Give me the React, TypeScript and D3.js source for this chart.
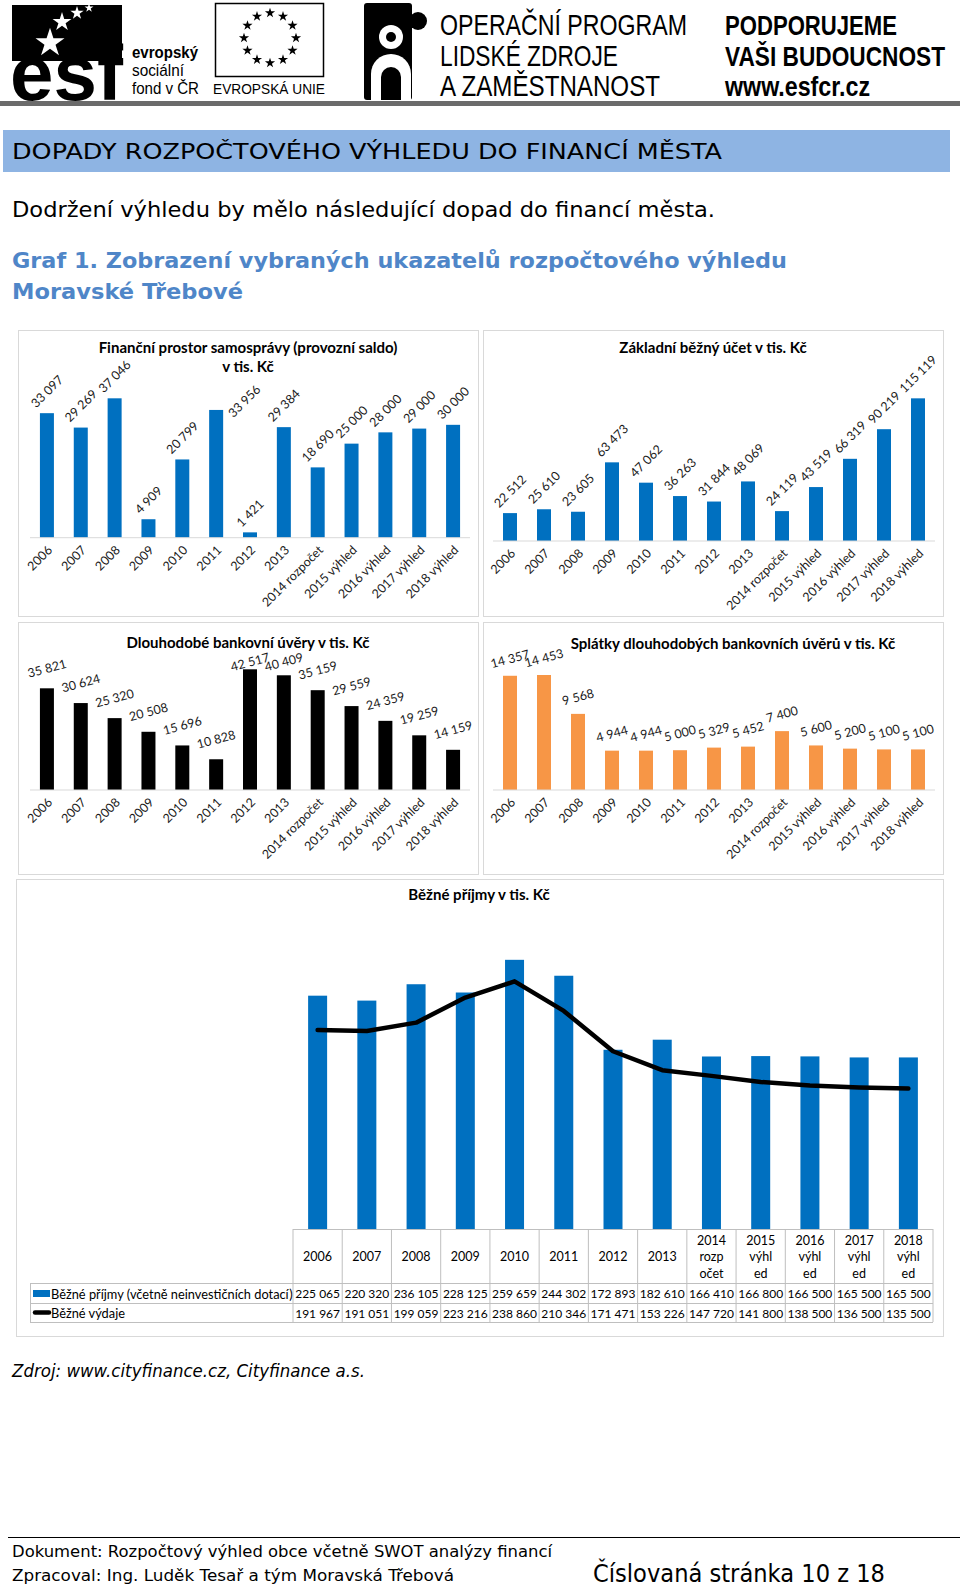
import React from "react";
import * as d3 from "d3";

// ---------- DATA ----------
const categories = [
  "2006", "2007", "2008", "2009", "2010", "2011", "2012", "2013",
  "2014 rozpočet", "2015 výhled", "2016 výhled", "2017 výhled", "2018 výhled",
];
const provozniSaldo = [33097, 29269, 37046, 4909, 20799, 33956, 1421, 29384, 18690, 25000, 28000, 29000, 30000];
const zakladniBeznyUcet = [22512, 25610, 23605, 63473, 47062, 36263, 31844, 48069, 24119, 43519, 66319, 90219, 115119];
const dlouhodobeUvery = [35821, 30624, 25320, 20508, 15696, 10828, 42517, 40409, 35159, 29559, 24359, 19259, 14159];
const splatkyUveru = [14357, 14453, 9568, 4944, 4944, 5000, 5329, 5452, 7400, 5600, 5200, 5100, 5100];
const beznePrijmy = [225065, 220320, 236105, 228125, 259659, 244302, 172893, 182610, 166410, 166800, 166500, 165500, 165500];
const bezneVydaje = [191967, 191051, 199059, 223216, 238860, 210346, 171471, 153226, 147720, 141800, 138500, 136500, 135500];
const tableHeaderLines = [
  ["2006"], ["2007"], ["2008"], ["2009"], ["2010"], ["2011"], ["2012"], ["2013"],
  ["2014", "rozp", "očet"], ["2015", "výhl", "ed"], ["2016", "výhl", "ed"], ["2017", "výhl", "ed"], ["2018", "výhl", "ed"],
];
const seriesNames = ["Běžné příjmy (včetně neinvestičních dotací)", "Běžné výdaje"];

const chartTitles = {
  saldo: ["Finanční prostor samosprávy (provozní saldo)", "v tis. Kč"],
  ucet: ["Základní běžný účet v tis. Kč"],
  uvery: ["Dlouhodobé bankovní úvěry v tis. Kč"],
  splatky: ["Splátky dlouhodobých bankovních úvěrů v tis. Kč"],
  prijmy: ["Běžné příjmy v tis. Kč"],
};

// ---------- HELPERS ----------
const locale = d3.formatLocale({ decimal: ",", thousands: "\u00a0", grouping: [3], currency: ["", ""] });
const fmt = locale.format(",d");
const CHART_FONT = "Lato, 'Open Sans', sans-serif";
const NARROW = "'Liberation Sans Narrow', 'Liberation Sans', Arial, sans-serif";

let _ctx: CanvasRenderingContext2D | null = null;
function textWidth(s: string, font: string): number {
  if (!_ctx) _ctx = document.createElement("canvas").getContext("2d");
  if (!_ctx) return s.length * 6.5;
  _ctx.font = font;
  return _ctx.measureText(s).width;
}

type Box = { x: number; y: number; w: number; h: number };

function BarChart(props: {
  box: Box;
  title: string[];
  titleX: number;
  titleY: number;
  plotX: [number, number];
  baseY: number;
  topY: number;
  max: number;
  values: number[];
  color: string;
  labelMode: "rot45" | "tilt";
  labelOffset?: number;
  labelMinY?: number;
  movedLabel?: { index: number; dx: number; dy: number };
}) {
  const { box, title, titleX, titleY, plotX, baseY, topY, max, values, color, labelMode, movedLabel } = props;
  const x = d3.scaleBand<string>().domain(categories).range(plotX).paddingInner(0);
  const y = d3.scaleLinear().domain([0, max]).range([baseY, topY]);
  const bw = 14;
  return (
    <g fontFamily={CHART_FONT}>
      <rect x={box.x + 0.5} y={box.y + 0.5} width={box.w} height={box.h} fill="#fff" stroke="#D9D9D9" />
      {title.map((t, i) => (
        <text key={i} x={titleX} y={titleY + i * 19} textAnchor="middle" dominantBaseline="central"
          fontWeight="bold" fontSize={15} fill="#000">{t}</text>
      ))}
      {values.map((v, i) => {
        const cx = (x(categories[i]) as number) + x.bandwidth() / 2;
        return <rect key={i} x={cx - bw / 2} y={y(v)} width={bw} height={baseY - y(v)} fill={color} />;
      })}
      <line x1={plotX[0]} x2={plotX[1]} y1={baseY} y2={baseY} stroke="#D9D9D9" strokeWidth={1} />
      {values.map((v, i) => {
        let cx = (x(categories[i]) as number) + x.bandwidth() / 2;
        const label = fmt(v);
        const shift = movedLabel && movedLabel.index === i ? movedLabel : { dx: 0, dy: 0 };
        if (labelMode === "rot45") {
          const w = textWidth(label, "12.5px Lato");
          const cy = y(v) - 4 - (w + 11) * 0.3536;
          return (
            <text key={i} transform={`translate(${cx + shift.dx},${cy + shift.dy}) rotate(-45)`} textAnchor="middle"
              dominantBaseline="central" fontSize={12.5} fill="#1a1a1a">{label}</text>
          );
        }
        const cy = Math.max(y(v) - (props.labelOffset ?? 18), props.labelMinY ?? 0);
        return (
          <text key={i} transform={`translate(${cx + shift.dx},${cy + shift.dy}) rotate(-15)`} textAnchor="middle"
            dominantBaseline="central" fontSize={12.5} fill="#1a1a1a">{label}</text>
        );
      })}
      {categories.map((c) => {
        const cx = (x(c) as number) + x.bandwidth() / 2;
        return (
          <text key={c} transform={`translate(${cx + 3},${baseY + 10}) rotate(-45)`} textAnchor="end"
            dominantBaseline="central" fontSize={12.5} fill="#1a1a1a">{c}</text>
        );
      })}
    </g>
  );
}

function ComboChart() {
  const box: Box = { x: 16, y: 879, w: 927, h: 457 };
  const tX0 = 293, tX1 = 933;
  const baseY = 1229;
  const x = d3.scaleBand<string>().domain(categories).range([tX0, tX1]).paddingInner(0);
  const y = d3.scaleLinear().domain([0, 300000]).range([baseY, baseY - 311]);
  const bw = 19;
  const cxOf = (i: number) => (x(categories[i]) as number) + x.bandwidth() / 2;
  const line = d3.line<number>().x((_, i) => cxOf(i)).y((d) => y(d));
  const rowTop = [1283, 1303, 1322];
  const legX0 = 30;
  return (
    <g fontFamily={CHART_FONT}>
      <rect x={box.x + 0.5} y={box.y + 0.5} width={box.w} height={box.h} fill="#fff" stroke="#D9D9D9" />
      <text x={479} y={894} textAnchor="middle" dominantBaseline="central" fontWeight="bold" fontSize={15} fill="#000">
        {chartTitles.prijmy[0]}
      </text>
      {beznePrijmy.map((v, i) => (
        <rect key={i} x={cxOf(i) - bw / 2} y={y(v)} width={bw} height={baseY - y(v)} fill="#0070C0" />
      ))}
      <path d={line(bezneVydaje) || ""} fill="none" stroke="#000" strokeWidth={4.5} strokeLinejoin="round" strokeLinecap="round" />
      <g stroke="#BFBFBF" strokeWidth={1}>
        <line x1={tX0} x2={tX1} y1={baseY + 0.5} y2={baseY + 0.5} />
        {rowTop.map((ry, i) => (
          <line key={i} x1={legX0} x2={tX1} y1={ry + 0.5} y2={ry + 0.5} />
        ))}
        <line x1={legX0 + 0.5} x2={legX0 + 0.5} y1={rowTop[0]} y2={rowTop[2]} />
        {d3.range(categories.length + 1).map((k) => {
          const xx = tX0 + k * x.bandwidth();
          return <line key={k} x1={xx} x2={xx} y1={baseY} y2={rowTop[2]} />;
        })}
      </g>
      {tableHeaderLines.map((lines, i) => {
        const cx = cxOf(i);
        const yy = lines.length === 1 ? [1256.5] : [1240, 1256.5, 1273];
        return lines.map((t, j) => (
          <text key={i + "-" + j} x={cx} y={yy[j]} textAnchor="middle" dominantBaseline="central" fontSize={12.5} fill="#000">{t}</text>
        ));
      })}
      {[beznePrijmy, bezneVydaje].map((row, r) => (
        <g key={r}>
          {row.map((v, i) => (
            <text key={i} x={cxOf(i)} y={(rowTop[r] + rowTop[r + 1]) / 2 + 0.5} textAnchor="middle" dominantBaseline="central"
              fontSize={12} fill="#000">{fmt(v)}</text>
          ))}
        </g>
      ))}
      <rect x={33} y={1290} width={17} height={7} fill="#0070C0" />
      <line x1={35} x2={49} y1={1312.5} y2={1312.5} stroke="#000" strokeWidth={4.5} strokeLinecap="round" />
      {seriesNames.map((s, r) => (
        <text key={r} x={51} y={(rowTop[r] + rowTop[r + 1]) / 2 + 0.5} dominantBaseline="central" fontSize={12.8} fill="#000">{s}</text>
      ))}
    </g>
  );
}

function Star({ cx, cy, size, fill }: { cx: number; cy: number; size: number; fill: string }) {
  const p = d3.symbol().type(d3.symbolStar).size(size)() || "";
  return <path d={p} transform={`translate(${cx},${cy})`} fill={fill} />;
}

function Squeezed(props: { x: number; y: number; width: number; sx: number; fontSize: number; bold?: boolean; children: string }) {
  const { x, y, width, sx, fontSize, bold, children } = props;
  return (
    <text transform={`translate(${x},${y}) scale(${sx},1)`} fontFamily={NARROW} fontSize={fontSize}
      fontWeight={bold ? "bold" : "normal"} fill="#000" textLength={width / sx} lengthAdjust="spacingAndGlyphs">
      {children}
    </text>
  );
}

function Header() {
  const euStars = d3.range(12).map((k) => {
    const a = (k / 12) * Math.PI * 2;
    return [270 + Math.sin(a) * 26, 38 - Math.cos(a) * 25];
  });
  return (
    <g>
      <rect x={12} y={5} width={110} height={56} fill="#000" />
      <Star cx={50} cy={43} size={260} fill="#fff" />
      <Star cx={62} cy={22} size={110} fill="#fff" />
      <Star cx={77} cy={13} size={55} fill="#fff" />
      <Star cx={89} cy={8} size={25} fill="#fff" />
      <Squeezed x={10} y={100} width={113} sx={0.9} fontSize={78} bold>esf</Squeezed>
      <Squeezed x={132} y={58} width={66} sx={0.85} fontSize={16} bold>evropský</Squeezed>
      <Squeezed x={132} y={76} width={52} sx={0.85} fontSize={16}>sociální</Squeezed>
      <Squeezed x={132} y={94} width={67} sx={0.85} fontSize={16}>fond v ČR</Squeezed>
      <rect x={215.5} y={3.5} width={108} height={73} fill="#fff" stroke="#000" strokeWidth={1.5} />
      {euStars.map(([sx, sy], k) => (
        <Star key={k} cx={sx} cy={sy} size={32} fill="#000" />
      ))}
      <Squeezed x={213} y={94} width={112} sx={0.85} fontSize={14}>EVROPSKÁ UNIE</Squeezed>
      <rect x={364} y={3} width={48} height={97} rx={3} fill="#000" />
      <circle cx={418} cy={21} r={9} fill="#000" />
      <circle cx={391} cy={37} r={12} fill="#fff" />
      <circle cx={391} cy={37} r={5} fill="#000" />
      <path d="M371,100 V74 A20,20 0 0 1 411,74 V100 Z" fill="#fff" />
      <path d="M381,100 V77 A10,10 0 0 1 401,77 V100 Z" fill="#000" />
      <Squeezed x={440} y={35} width={247} sx={0.8} fontSize={29}>OPERAČNÍ PROGRAM</Squeezed>
      <Squeezed x={440} y={66} width={178} sx={0.8} fontSize={29}>LIDSKÉ ZDROJE</Squeezed>
      <Squeezed x={440} y={96} width={220} sx={0.8} fontSize={29}>A ZAMĚSTNANOST</Squeezed>
      <Squeezed x={725} y={35} width={172} sx={0.78} fontSize={28} bold>PODPORUJEME</Squeezed>
      <Squeezed x={725} y={66} width={220} sx={0.78} fontSize={28} bold>VAŠI BUDOUCNOST</Squeezed>
      <Squeezed x={725} y={96} width={145} sx={0.78} fontSize={28} bold>www.esfcr.cz</Squeezed>
      <rect x={0} y={101} width={960} height={5} fill="#6b6b6b" />
    </g>
  );
}

export default function App() {
  return (
    <svg width={960} height={1589} viewBox="0 0 960 1589"
      style={{ position: "absolute", left: 0, top: 0, background: "#fff" }}>
      <rect x={0} y={0} width={960} height={1589} fill="#fff" />
      <Header />
      <rect x={3} y={130} width={947} height={42} fill="#8EB4E3" />
      <text x={12} y={159} fontFamily="'DejaVu Sans', Verdana, sans-serif" fontSize={21} fill="#000"
        textLength={710} lengthAdjust="spacingAndGlyphs">DOPADY ROZPOČTOVÉHO VÝHLEDU DO FINANCÍ MĚSTA</text>
      <text x={12} y={217} fontFamily="'DejaVu Sans', Verdana, sans-serif" fontSize={21} fill="#000"
        textLength={703} lengthAdjust="spacingAndGlyphs">Dodržení výhledu by mělo následující dopad do financí města.</text>
      <text x={12} y={268} fontFamily="'DejaVu Sans', Verdana, sans-serif" fontWeight="bold" fontSize={21} fill="#4F86C8"
        textLength={775} lengthAdjust="spacingAndGlyphs">Graf 1. Zobrazení vybraných ukazatelů rozpočtového výhledu</text>
      <text x={12} y={299} fontFamily="'DejaVu Sans', Verdana, sans-serif" fontWeight="bold" fontSize={21} fill="#4F86C8"
        textLength={231} lengthAdjust="spacingAndGlyphs">Moravské Třebové</text>

      <BarChart box={{ x: 18, y: 330, w: 460, h: 286 }} title={chartTitles.saldo} titleX={248} titleY={347}
        plotX={[30, 470]} baseY={537.7} topY={387.2} max={40000} values={provozniSaldo} color="#0070C0" labelMode="rot45"
        movedLabel={{ index: 5, dx: 28, dy: 13 }} />
      <BarChart box={{ x: 483, y: 330, w: 460, h: 286 }} title={chartTitles.ucet} titleX={713} titleY={347}
        plotX={[493, 935]} baseY={541} topY={367.5} max={140000} values={zakladniBeznyUcet} color="#0070C0" labelMode="rot45" />
      <BarChart box={{ x: 18, y: 622, w: 460, h: 252 }} title={chartTitles.uvery} titleX={248} titleY={642}
        plotX={[30, 470]} baseY={790} topY={662.25} max={45000} values={dlouhodobeUvery} color="#000000"
        labelMode="tilt" labelOffset={20} labelMinY={662} />
      <BarChart box={{ x: 483, y: 622, w: 460, h: 252 }} title={chartTitles.splatky} titleX={733} titleY={643}
        plotX={[493, 935]} baseY={790} topY={662.7} max={16000} values={splatkyUveru} color="#F79646"
        labelMode="tilt" labelOffset={17} labelMinY={656} />
      <ComboChart />

      <text x={12} y={1377} fontFamily="'DejaVu Sans', Verdana, sans-serif" fontStyle="italic" fontSize={17} fill="#000"
        textLength={353} lengthAdjust="spacingAndGlyphs">Zdroj: www.cityfinance.cz, Cityfinance a.s.</text>

      <line x1={8} x2={960} y1={1537.5} y2={1537.5} stroke="#000" strokeWidth={1} />
      <text x={12} y={1557} fontFamily="'DejaVu Sans', Verdana, sans-serif" fontSize={16} fill="#000"
        textLength={540} lengthAdjust="spacingAndGlyphs">Dokument: Rozpočtový výhled obce včetně SWOT analýzy financí</text>
      <text x={12} y={1581} fontFamily="'DejaVu Sans', Verdana, sans-serif" fontSize={16} fill="#000"
        textLength={442} lengthAdjust="spacingAndGlyphs">Zpracoval: Ing. Luděk Tesař a tým Moravská Třebová</text>
      <text x={593} y={1582} fontFamily="'DejaVu Sans', Verdana, sans-serif" fontSize={24} fill="#000"
        textLength={292} lengthAdjust="spacingAndGlyphs">Číslovaná stránka 10 z 18</text>
    </svg>
  );
}
